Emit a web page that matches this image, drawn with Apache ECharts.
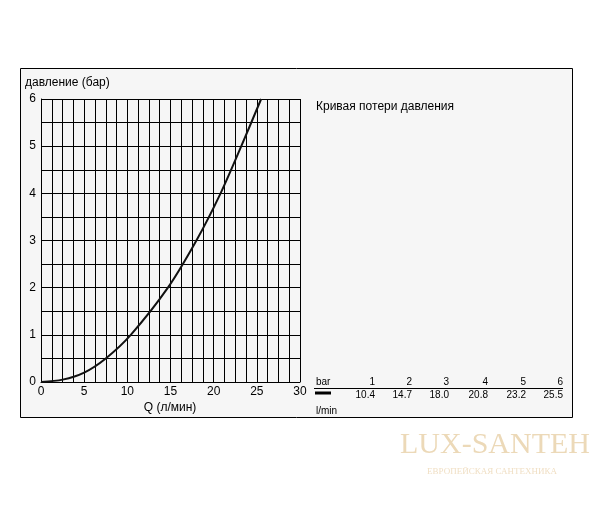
<!DOCTYPE html>
<html><head><meta charset="utf-8">
<script src="https://cdn.jsdelivr.net/npm/echarts@6/dist/echarts.min.js"></script>
<style>html,body{margin:0;padding:0;background:#fff}#c{width:600px;height:520px}</style>
</head><body><div id="c"></div>
<script>
// Data
var flowLmin = [0, 2.5, 5, 7.5, 10.4, 14.7, 18.0, 20.8, 23.2, 25.5];
var pressureBar = [0, 0.05, 0.2, 0.5, 1, 2, 3, 4, 5, 6];
var tableBar = ['1', '2', '3', '4', '5', '6'];
var tableFlow = ['10.4', '14.7', '18.0', '20.8', '23.2', '25.5'];
var yAxisTitle = 'давление (бар)';
var xAxisTitle = 'Q (л/мин)';
var chartTitle = 'Кривая потери давления';

var font = '"Liberation Sans", Arial, sans-serif';
var pts = flowLmin.map(function (q, i) { return [q, pressureBar[i]]; });

var colX = [375, 412, 449, 488, 526, 563];
var graphics = [
  { type: 'rect', z: -10, shape: { x: 20.5, y: 68.5, width: 552, height: 349 },
    style: { fill: '#f6f6f6', stroke: '#000', lineWidth: 1 } },
  { type: 'text', left: 25, top: 77, style: { text: yAxisTitle, font: '12px ' + font, fill: '#000' } },
  { type: 'text', x: 170, y: 408, style: { text: xAxisTitle, font: '12px ' + font, fill: '#000', align: 'center', verticalAlign: 'middle' } },
  { type: 'text', x: 316, y: 107, style: { text: chartTitle, font: '12px ' + font, fill: '#000', verticalAlign: 'middle' } },
  { type: 'text', x: 316, y: 382, style: { text: 'bar', font: '10px ' + font, fill: '#000', verticalAlign: 'middle' } },
  { type: 'line', shape: { x1: 314, y1: 388.5, x2: 563, y2: 388.5 }, style: { stroke: '#000', lineWidth: 1 } },
  { type: 'line', shape: { x1: 315, y1: 393, x2: 331, y2: 393 }, style: { stroke: '#000', lineWidth: 3 } },
  { type: 'text', x: 316, y: 411, style: { text: 'l/min', font: '10px ' + font, fill: '#000', verticalAlign: 'middle' } },
  { type: 'text', x: 400, y: 445, style: { text: 'LUX-SANTEH', font: '30px "Liberation Serif", serif', fill: '#ecd9b8', verticalAlign: 'middle' } },
  { type: 'text', x: 492, y: 472, style: { text: 'ЕВРОПЕЙСКАЯ САНТЕХНИКА', font: '9px "Liberation Serif", serif', fill: '#f0dfc4', align: 'center', verticalAlign: 'middle' } }
];
tableBar.forEach(function (b, i) {
  graphics.push({ type: 'text', x: colX[i], y: 382, style: { text: b, font: '10px ' + font, fill: '#000', align: 'right', verticalAlign: 'middle' } });
  graphics.push({ type: 'text', x: colX[i], y: 395, style: { text: tableFlow[i], font: '10px ' + font, fill: '#000', align: 'right', verticalAlign: 'middle' } });
});

var chart = echarts.init(document.getElementById('c'), null, { renderer: 'canvas' });
chart.setOption({
  animation: false,
  backgroundColor: '#fff',
  grid: { left: 41, right: 300, top: 99, bottom: 138, containLabel: false },
  xAxis: {
    type: 'value', min: 0, max: 30, interval: 5,
    axisLine: { show: true, onZero: false, lineStyle: { color: '#000', width: 1 } },
    axisTick: { show: false },
    axisLabel: { color: '#000', fontSize: 12, fontFamily: font, margin: 4 },
    splitLine: { show: true, lineStyle: { color: '#000', width: 1 } },
    minorTick: { show: false, splitNumber: 4 },
    minorSplitLine: { show: true, lineStyle: { color: '#000', width: 1 } }
  },
  yAxis: {
    type: 'value', min: 0, max: 6, interval: 1,
    axisLine: { show: true, lineStyle: { color: '#000', width: 1 } },
    axisTick: { show: false },
    axisLabel: { color: '#000', fontSize: 12, fontFamily: font, margin: 5 },
    splitLine: { show: true, lineStyle: { color: '#000', width: 1 } },
    minorTick: { show: false, splitNumber: 2 },
    minorSplitLine: { show: true, lineStyle: { color: '#000', width: 1 } }
  },
  series: [{
    type: 'line', data: pts, smooth: 0.3, showSymbol: false,
    lineStyle: { color: '#111', width: 2 }, z: 5
  }],
  graphic: graphics
});
</script></body></html>
